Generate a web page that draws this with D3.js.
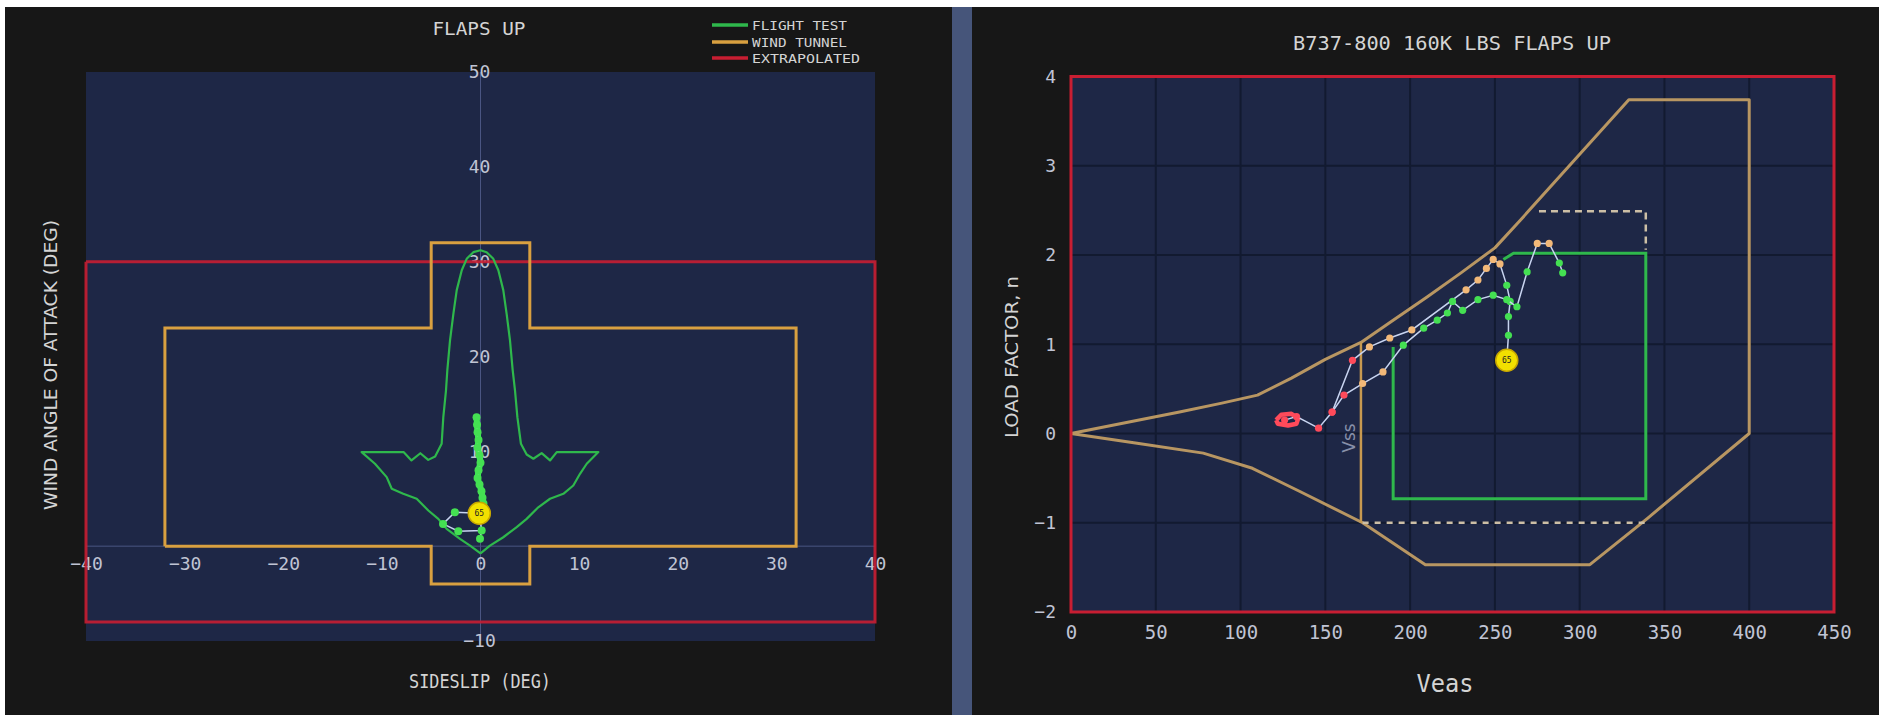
<!DOCTYPE html>
<html><head><meta charset="utf-8">
<script src="https://cdn.jsdelivr.net/npm/d3@7"></script>
<style>
html,body{margin:0;padding:0;background:#fff;overflow:hidden}
svg{display:block}
</style></head><body>
<svg id="c" width="1879" height="715"></svg>
<script>
// ---------- LEFT PANEL DATA (sideslip vs wind angle of attack) ----------
const leftXTicks = [-40,-30,-20,-10,0,10,20,30,40];
const leftYTicks = [50,40,30,20,10,-10];
const legendLabels = ["FLIGHT TEST","WIND TUNNEL","EXTRAPOLATED"];

const wtBeta  = [-32,-32,-5,-5,5,5,32,32,5,5,-5,-5,-32];
const wtAlpha = [0,23,23,32,32,23,23,0,0,-4,-4,0,0];

const exBeta  = [-40,40,40,-40,-40];
const exAlpha = [30,30,-8,-8,30];

const ftBeta  = [0,-1.06,-2.08,-3.43,-4.28,-5.29,-6.47,-7.83,-9.0,-9.51,-10.7,-12.05,
  -7.8,-7.0,-6.1,-5.3,-4.6,-3.94,-3.77,-3.5,-3.36,-3.09,-2.75,-2.41,-1.9,-1.4,-0.73,0,
  0.62,1.3,1.81,2.31,2.65,2.99,3.26,3.5,3.74,4.1,4.68,5.36,6.2,7.05,7.73,11.95,
  10.77,10.09,9.41,8.4,7.05,5.86,4.68,3.67,2.31,0.96,0];
const ftAlpha = [-0.75,0.06,0.77,1.82,2.88,3.76,5.0,5.52,6.05,7.28,8.69,9.92,
  9.92,9.04,9.8,9.1,9.46,10.8,13.6,16.4,18.6,21.7,24.5,27.0,29.1,30.3,31.0,31.2,
  31.0,30.3,29.1,27.0,24.5,21.7,18.6,16.4,13.6,10.8,9.67,9.22,9.81,9.04,9.92,9.92,
  8.69,7.63,6.4,5.52,5.0,4.1,2.88,2.0,0.94,0.06,-0.75];

const stemBeta  = [-0.4,-0.35,-0.3,-0.2,-0.3,-0.1,0.0,-0.2,-0.3,-0.1,0.1,0.2,0.3,-0.12];
const stemAlpha = [13.6,12.8,12.0,11.2,10.4,9.6,8.8,8.0,7.2,6.5,5.8,5.1,4.5,3.47];
const clusterBeta  = [-0.12,-2.6,-3.8,-2.25,0.12,-0.12];
const clusterAlpha = [3.47,3.58,2.35,1.57,1.65,3.47];
const tailBeta  = [0.12,-0.05];
const tailAlpha = [1.65,0.77];
const leftMarker = {beta:-0.12, alpha:3.47, label:"65"};

// ---------- RIGHT PANEL DATA (Veas vs load factor) ----------
const rightXTicks = [0,50,100,150,200,250,300,350,400,450];
const rightYTicks = [-2,-1,0,1,2,3,4];

const envV = [0,29,64,89,110,130,150,171,190,210,230,250,265,329,400,400,340,306,209,172,135,107,78,39,0];
const envN = [0,0.11,0.24,0.34,0.43,0.62,0.83,1.02,1.27,1.53,1.8,2.08,2.39,3.74,3.74,0,-0.95,-1.47,-1.47,-1.0,-0.65,-0.39,-0.22,-0.11,0];
const vssV = [171,171];
const vssN = [-1.0,1.02];
const dashLowV = [172,340];
const dashLowN = [-1.0,-1.0];
const dashTopV = [276,339,339];
const dashTopN = [2.49,2.49,2.06];
const ftRectV = [255,261,339,339,190,190];
const ftRectN = [1.95,2.02,2.02,-0.73,-0.73,0.97];

const loopV = [121,124,130,134,133,128,122,121];
const loopN = [0.15,0.21,0.22,0.17,0.11,0.09,0.11,0.15];
const traceAV = [126,133,146,154,166,176,188,201,233,240,245,249,253,257,259,258,258,257];
const traceAN = [0.15,0.19,0.06,0.24,0.82,0.97,1.07,1.16,1.61,1.72,1.85,1.95,1.9,1.66,1.48,1.31,1.10,0.82];
const traceAT = ["E","E","E","E","E","W","W","W","W","W","W","W","W","F","F","F","F","F"];
const traceBV = [154,161,172,184,196,208,216,222,225,231,240,249,257,263,269,275,282,288,290];
const traceBN = [0.24,0.43,0.56,0.69,0.99,1.18,1.27,1.35,1.48,1.38,1.50,1.55,1.50,1.42,1.81,2.13,2.13,1.91,1.80];
const traceBT = ["E","E","W","W","F","F","F","F","F","F","F","F","F","F","F","W","W","F","F"];
const rightMarker = {v:257, n:0.82, label:"65"};

// ---------- STYLE ----------
const C = {
  page:"#171717", sep:"#46557a", plot:"#1e2746", grid:"#121a30",
  red:"#c81e32", orangeL:"#d9a040", orangeR:"#b89662", green:"#2fb84c",
  text:"#d4d4d4", tick:"#c0c4d4", line:"#c8d4f0"
};
const typeColor = {E:"#ff4a5a", W:"#f2b878", F:"#44e052"};
const mono = "'DejaVu Sans Mono', 'Liberation Mono', monospace";
const sans = "'DejaVu Sans', Verdana, sans-serif";

const svg = d3.select("#c");
svg.append("rect").attr("x",5).attr("y",7).attr("width",1874).attr("height",708).attr("fill",C.page);
svg.append("rect").attr("x",952).attr("y",7).attr("width",20).attr("height",708).attr("fill",C.sep);

const zip = (a,b) => a.map((d,i)=>[d,b[i]]);

// ================= LEFT =================
const xL = d3.scaleLinear().domain([-40,40]).range([86,875]);
const yL = d3.scaleLinear().domain([-10,50]).range([641,72]);
const lineL = d3.line().x(d=>xL(d[0])).y(d=>yL(d[1]));
const L = svg.append("g");

L.append("rect").attr("x",xL(-40)).attr("y",yL(50)).attr("width",xL(40)-xL(-40)).attr("height",yL(-10)-yL(50)).attr("fill",C.plot);
L.append("line").attr("x1",xL(0)).attr("x2",xL(0)).attr("y1",yL(50)).attr("y2",yL(-10)).attr("stroke","#4a5582").attr("stroke-width",1);
L.append("line").attr("x1",xL(-40)).attr("x2",xL(40)).attr("y1",yL(0)).attr("y2",yL(0)).attr("stroke","#4a5582").attr("stroke-width",1);

// axes (labels only)
const axXL = L.append("g").attr("transform",`translate(0,${yL(0)})`)
  .call(d3.axisBottom(xL).tickValues(leftXTicks).tickSize(0).tickFormat(d3.format("d")));
axXL.select(".domain").remove();
axXL.selectAll("text").attr("y",18).attr("dy","0.35em").attr("fill",C.tick)
  .style("font-family",mono).style("font-size","18px");
const axYL = L.append("g").attr("transform",`translate(${xL(0)},0)`)
  .call(d3.axisLeft(yL).tickValues(leftYTicks).tickSize(0).tickFormat(d3.format("d")));
axYL.select(".domain").remove();
axYL.selectAll("text").attr("x",-1).attr("text-anchor","middle").attr("fill",C.tick)
  .style("font-family",mono).style("font-size","18px");

// envelopes
L.append("path").attr("d",lineL(zip(exBeta,exAlpha))).attr("fill","none").attr("stroke",C.red).attr("stroke-width",3).attr("opacity",0.9);
L.append("path").attr("d",lineL(zip(wtBeta,wtAlpha))).attr("fill","none").attr("stroke",C.orangeL).attr("stroke-width",3);
L.append("path").attr("d",lineL(zip(ftBeta,ftAlpha))).attr("fill","none").attr("stroke",C.green).attr("stroke-width",2.2).attr("stroke-linejoin","round");

// data
L.append("path").attr("d",lineL(zip(clusterBeta,clusterAlpha))).attr("fill","none").attr("stroke",C.line).attr("stroke-width",1.5);
L.append("path").attr("d",lineL(zip(tailBeta,tailAlpha))).attr("fill","none").attr("stroke",C.line).attr("stroke-width",1.5);
L.append("path").attr("d",lineL(zip(stemBeta,stemAlpha))).attr("fill","none").attr("stroke","#3cf05a").attr("stroke-width",6).attr("stroke-linejoin","round").attr("stroke-linecap","round");
L.append("path").attr("d",lineL(zip(stemBeta,stemAlpha))).attr("fill","none").attr("stroke","#e8ffe8").attr("stroke-width",1.6);
L.selectAll("circle.s").data(zip(stemBeta,stemAlpha).concat(zip(clusterBeta,clusterAlpha).slice(1,5), zip(tailBeta,tailAlpha).slice(1)))
  .enter().append("circle").attr("cx",d=>xL(d[0])).attr("cy",d=>yL(d[1])).attr("r",4).attr("fill","#44e052");
L.append("circle").attr("cx",xL(leftMarker.beta)).attr("cy",yL(leftMarker.alpha)).attr("r",11).attr("fill","#f2e000").attr("stroke","#c8a800").attr("stroke-width",1.5);
L.append("text").attr("x",xL(leftMarker.beta)).attr("y",yL(leftMarker.alpha)).attr("dy","0.35em").attr("text-anchor","middle")
  .style("font-family",mono).style("font-size","8px").attr("fill","#222").text(leftMarker.label);

// titles and labels
L.append("text").attr("x",479).attr("y",35).attr("text-anchor","middle").attr("fill",C.text)
  .style("font-family",mono).style("font-size","17px").attr("textLength",93).attr("lengthAdjust","spacingAndGlyphs").text("FLAPS UP");
L.append("text").attr("x",480).attr("y",688).attr("text-anchor","middle").attr("fill",C.text)
  .style("font-family",mono).style("font-size","19px").attr("textLength",142).attr("lengthAdjust","spacingAndGlyphs").text("SIDESLIP (DEG)");
L.append("text").attr("transform","translate(57,365) rotate(-90)").attr("text-anchor","middle").attr("fill",C.text)
  .style("font-family",sans).style("font-size","17px").attr("textLength",290).attr("lengthAdjust","spacingAndGlyphs").text("WIND ANGLE OF ATTACK (DEG)");

// legend
const legColors = [C.green, C.orangeL, C.red];
const legY = [25,42,58];
const leg = L.append("g");
legendLabels.forEach((t,i)=>{
  leg.append("line").attr("x1",712).attr("x2",748).attr("y1",legY[i]).attr("y2",legY[i]).attr("stroke",legColors[i]).attr("stroke-width",3.5);
  leg.append("text").attr("x",752).attr("y",legY[i]).attr("dy","0.38em").attr("fill",C.text)
    .style("font-family",mono).style("font-size","13px")
    .attr("textLength", i===2?108:95).attr("lengthAdjust","spacingAndGlyphs").text(t);
});

// ================= RIGHT =================
const xR = d3.scaleLinear().domain([0,450]).range([1071,1834]);
const yR = d3.scaleLinear().domain([-2,4]).range([612,76.5]);
const lineR = d3.line().x(d=>xR(d[0])).y(d=>yR(d[1]));
const R = svg.append("g");

R.append("rect").attr("x",xR(0)).attr("y",yR(4)).attr("width",xR(450)-xR(0)).attr("height",yR(-2)-yR(4)).attr("fill",C.plot);
R.append("g").selectAll("line").data(rightXTicks).enter().append("line")
  .attr("x1",d=>xR(d)).attr("x2",d=>xR(d)).attr("y1",yR(4)).attr("y2",yR(-2)).attr("stroke",C.grid).attr("stroke-width",2);
R.append("g").selectAll("line").data(rightYTicks).enter().append("line")
  .attr("x1",xR(0)).attr("x2",xR(450)).attr("y1",d=>yR(d)).attr("y2",d=>yR(d)).attr("stroke",C.grid).attr("stroke-width",2);

const axXR = R.append("g").attr("transform",`translate(0,${yR(-2)})`)
  .call(d3.axisBottom(xR).tickValues(rightXTicks).tickSize(0).tickFormat(d3.format("d")));
axXR.select(".domain").remove();
axXR.selectAll("text").attr("y",20).attr("dy","0.35em").attr("fill",C.tick)
  .style("font-family",mono).style("font-size","19px");
const axYR = R.append("g").attr("transform",`translate(${xR(0)},0)`)
  .call(d3.axisLeft(yR).tickValues(rightYTicks).tickSize(0).tickPadding(15).tickFormat(d3.format("d")));
axYR.select(".domain").remove();
axYR.selectAll("text").attr("fill",C.tick).style("font-family",mono).style("font-size","18px");

// envelopes
R.append("path").attr("d",lineR(zip(envV,envN))).attr("fill","none").attr("stroke",C.orangeR).attr("stroke-width",3).attr("stroke-linejoin","round");
R.append("path").attr("d",lineR(zip(vssV,vssN))).attr("fill","none").attr("stroke","#c89a50").attr("stroke-width",2.5);
R.append("path").attr("d",lineR(zip(dashLowV,dashLowN))).attr("fill","none").attr("stroke","#cdbfa6").attr("stroke-width",2.5).attr("stroke-dasharray","6,6");
R.append("path").attr("d",lineR(zip(dashTopV,dashTopN))).attr("fill","none").attr("stroke","#cdbfa6").attr("stroke-width",2.5).attr("stroke-dasharray","7,5");
R.append("path").attr("d",lineR(zip(ftRectV,ftRectN))).attr("fill","none").attr("stroke",C.green).attr("stroke-width",3);
R.append("text").attr("transform",`translate(${xR(164)},${yR(-0.05)}) rotate(-90)`).attr("text-anchor","middle").attr("dy","0.35em")
  .attr("fill","#8890aa").style("font-family",sans).style("font-size","17px").text("Vss");

// red border
R.append("rect").attr("x",xR(0)).attr("y",yR(4)).attr("width",xR(450)-xR(0)).attr("height",yR(-2)-yR(4))
  .attr("fill","none").attr("stroke",C.red).attr("stroke-width",3);

// data traces
R.append("path").attr("d",lineR(zip(loopV,loopN))).attr("fill","none").attr("stroke","#ff4a5a").attr("stroke-width",4.5).attr("stroke-linejoin","round");
[[traceAV,traceAN,traceAT],[traceBV,traceBN,traceBT]].forEach(([v,n,t])=>{
  R.append("path").attr("d",lineR(zip(v,n))).attr("fill","none").attr("stroke",C.line).attr("stroke-width",1.5);
  R.append("g").selectAll("circle").data(v.map((d,i)=>({v:d,n:n[i],t:t[i]}))).enter().append("circle")
    .attr("cx",d=>xR(d.v)).attr("cy",d=>yR(d.n)).attr("r",3.6).attr("fill",d=>typeColor[d.t]);
});
R.append("circle").attr("cx",xR(rightMarker.v)).attr("cy",yR(rightMarker.n)).attr("r",11).attr("fill","#f2e000").attr("stroke","#c8a800").attr("stroke-width",1.5);
R.append("text").attr("x",xR(rightMarker.v)).attr("y",yR(rightMarker.n)).attr("dy","0.35em").attr("text-anchor","middle")
  .style("font-family",mono).style("font-size","8px").attr("fill","#222").text(rightMarker.label);

// titles
R.append("text").attr("x",1452).attr("y",50).attr("text-anchor","middle").attr("fill",C.text)
  .style("font-family",mono).style("font-size","20px").attr("textLength",318).attr("lengthAdjust","spacingAndGlyphs").text("B737-800 160K LBS FLAPS UP");
R.append("text").attr("x",1445).attr("y",692).attr("text-anchor","middle").attr("fill",C.text)
  .style("font-family",mono).style("font-size","25px").attr("textLength",57).attr("lengthAdjust","spacingAndGlyphs").text("Veas");
R.append("text").attr("transform","translate(1018,357) rotate(-90)").attr("text-anchor","middle").attr("fill",C.text)
  .style("font-family",sans).style("font-size","17px").attr("textLength",162).attr("lengthAdjust","spacingAndGlyphs").text("LOAD FACTOR, n");
</script>
</body></html>
